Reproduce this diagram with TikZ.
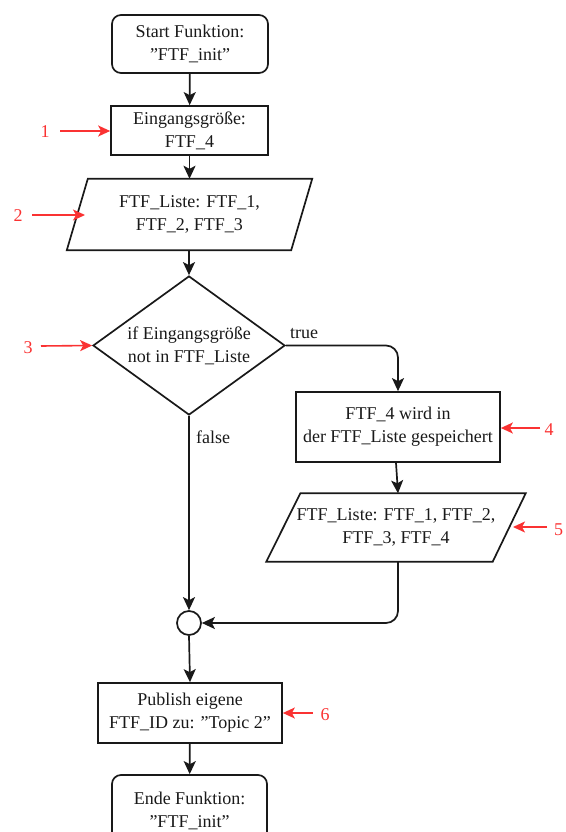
\documentclass[tikz,border=0pt]{standalone}
\usepackage{fontspec}
\setmainfont{Liberation Serif}
\usetikzlibrary{arrows.meta,shapes.geometric}
\definecolor{mark}{RGB}{250,50,50}
\definecolor{ink}{RGB}{25,25,25}

\begin{document}
\begin{tikzpicture}[x=1pt,y=-1pt,
  txt/.style={font=\fontsize{18}{23}\selectfont, text=ink, align=center, inner sep=0pt},
  box/.style={txt, draw=ink, line width=1.7pt},
  terminal/.style={box, rounded corners=9pt},
  iobox/.style={txt, draw=none},
  flow/.style={draw=ink, line width=1.7pt, -{Stealth[length=13pt,width=12pt,inset=3pt]}},
  pointer/.style={draw=mark, line width=1.6pt, -{Stealth[length=12pt,width=11pt,inset=3pt]}},
  num/.style={font=\fontsize{18}{23}\selectfont, text=mark, inner sep=0pt},
]
\useasboundingbox (0,0) rectangle (565,832);

% main column
\node[terminal, minimum width=156pt, minimum height=58pt] (start) at (190,44) {Start Funktion:\\"FTF\_init"};
\node[box, minimum width=157pt, minimum height=49pt] (input) at (189.5,130.5) {Eingangsgröße:\\FTF\_4};
\node[iobox, minimum width=245pt, minimum height=71pt] (list) at (189.5,214.5) {FTF\_Liste: FTF\_1,\\FTF\_2, FTF\_3};
\draw[ink, line width=1.7pt] ([xshift=21pt]list.north west) -- (list.north east)
  -- ([xshift=-21pt]list.south east) -- (list.south west) -- cycle;
\node[txt, draw=ink, line width=1.7pt, diamond, shape aspect=1.38,
      minimum width=192pt, minimum height=139pt] (check) at (189,345.5) {if Eingangsgröße\\not in FTF\_Liste};

% true branch
\node[box, minimum width=204pt, minimum height=70pt] (store) at (398,427) {FTF\_4 wird in\\der FTF\_Liste gespeichert};
\node[iobox, minimum width=259pt, minimum height=68pt] (newlist) at (396,527.5) {FTF\_Liste: FTF\_1, FTF\_2,\\FTF\_3, FTF\_4};
\draw[ink, line width=1.7pt] ([xshift=34pt]newlist.north west) -- (newlist.north east)
  -- ([xshift=-33pt]newlist.south east) -- (newlist.south west) -- cycle;

% merge point and end
\node[draw=ink, line width=1.7pt, circle, minimum size=24pt, inner sep=0pt] (merge) at (189,623) {};
\node[box, minimum width=184pt, minimum height=60pt] (publish) at (190,713) {Publish eigene\\FTF\_ID zu: "Topic 2"};
\node[terminal, minimum width=155pt, minimum height=72pt] (finish) at (189.5,811) {Ende Funktion:\\"FTF\_init"};

% connectors
\draw[flow] (start) -- (input);
\draw[flow] (input) -- (input |- list.north);
\draw[flow] (list.south -| check) -- (check.north);
\draw[flow, rounded corners=12pt] (check.east) -- (store.north |- check.east) -- (store.north);
\draw[flow] (store.south -| newlist) -- (newlist.north -| store.south);
\draw[flow, rounded corners=12pt] (newlist.south -| store.south) |- (merge.east);
\draw[flow] (check.south) -- (merge.north);
\draw[flow] (merge.south) -- (publish.north);
\draw[flow] (publish) -- (finish);

\node[txt, anchor=south west] (truelbl) at (290,339) {true};
\node[txt, anchor=west] (falselbl) at (196,437) {false};

% numbered pointers
\node[num] (n1) at (45,132) {1};
\coordinate (t1) at (60,131);
\draw[pointer] (t1) -- (input.west |- t1);
\node[num] (n2) at (18,216) {2};
\coordinate (t2) at (32,215);
\draw[pointer] (t2) -- (85,215);
\node[num] (n3) at (28,348) {3};
\coordinate (t3) at (41,346);
\draw[pointer] (t3) -- (check.west);
\node[num] (n4) at (549,430) {4};
\coordinate (t4) at (540,428);
\draw[pointer] (t4) -- (store.east |- t4);
\node[num, anchor=west] (n5) at (554,530) {5};
\coordinate (t5) at (547,527);
\draw[pointer] (t5) -- (513,527);
\node[num] (n6) at (325,715) {6};
\coordinate (t6) at (313,713);
\draw[pointer] (t6) -- (publish.east |- t6);
\end{tikzpicture}
\end{document}
